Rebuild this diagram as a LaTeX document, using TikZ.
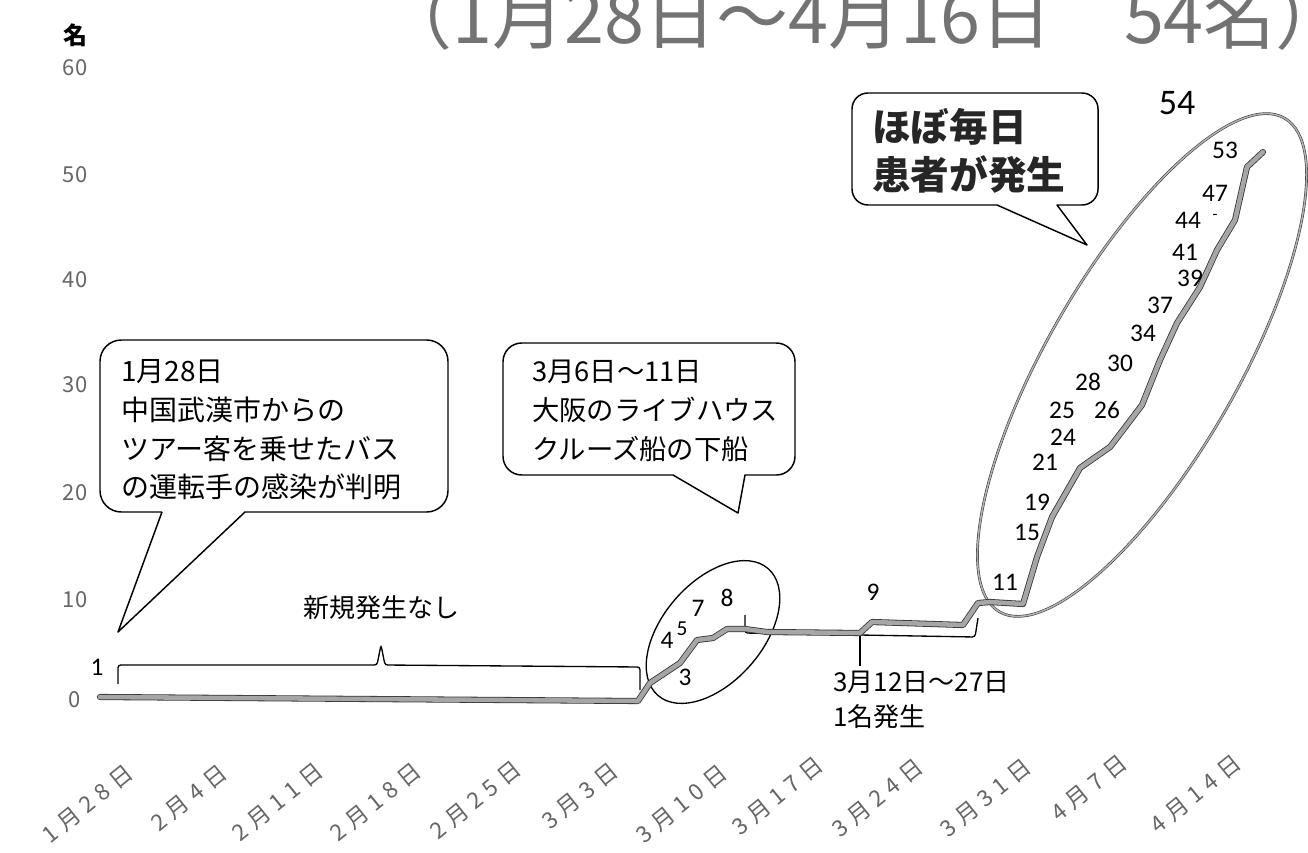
\documentclass[tikz,border=0pt]{standalone}
\usepackage{fontspec}
\newfontfamily\jp{Noto Sans CJK JP}
\newfontfamily\jpsp{Noto Sans CJK JP}[LetterSpace=28]
\newfontfamily\lab{Carlito}
\begin{document}
\begin{tikzpicture}[x=0.75pt,y=-0.75pt,
  dataline/.style={draw=black!80, line width=0.6pt, double=black!35, double distance=3.4pt, line join=round, line cap=round},
  bigring/.style={draw=black!75, line width=0.45pt, double=black!30, double distance=1.1pt},
  smallring/.style={draw=black, line width=1pt},
  balloon/.style={draw=black, line width=1.1pt, fill=white, line join=round},
  bracketline/.style={draw=black, line width=1pt, rounded corners=2pt},
  ytick/.style={font=\jp\fontsize{16.5}{16.5}\selectfont, text=black!60},
  xtick/.style={font=\jpsp\fontsize{17}{17}\selectfont, text=black!60, rotate=39, anchor=east, inner sep=0pt},
  datalab/.style={font=\lab\fontsize{19}{19}\selectfont, inner sep=0pt},
  callout/.style={font=\jp\fontsize{21}{29}\selectfont, align=left, anchor=west, inner sep=0pt},
  note/.style={font=\jp\fontsize{19.5}{26}\selectfont, align=left, inner sep=0pt}
]
\useasboundingbox (0,0) rectangle (1308,852);
\clip (0,0) rectangle (1308,852);
\fill[white] (0,0) rectangle (1308,852);

% title
\node[anchor=base west, inner sep=0pt, font=\jp\fontsize{54}{54}\selectfont, text=black!55] (title) at (380,44) {（1月28日～4月16日　54名）};

% y axis
\node[font=\jp\bfseries\fontsize{18}{18}\selectfont] (unit) at (75,35) {名};
\node[ytick] (y60) at (75,68) {60};
\node[ytick] (y50) at (75,175) {50};
\node[ytick] (y40) at (75,280) {40};
\node[ytick] (y30) at (75,385) {30};
\node[ytick] (y20) at (75,493) {20};
\node[ytick] (y10) at (75,600) {10};
\node[ytick] (y0) at (75,700) {0};

% x axis labels
\node[xtick] (x1) at (130,770) {1月28日};
\node[xtick] (x2) at (224,770) {2月4日};
\node[xtick] (x3) at (320,768) {2月11日};
\node[xtick] (x4) at (418,768) {2月18日};
\node[xtick] (x5) at (518,766) {2月25日};
\node[xtick] (x6) at (615,768) {3月3日};
\node[xtick] (x7) at (724,770) {3月10日};
\node[xtick] (x8) at (820,762) {3月17日};
\node[xtick] (x9) at (920,764) {3月24日};
\node[xtick] (x10) at (1028,764) {3月31日};
\node[xtick] (x11) at (1124,760) {4月7日};
\node[xtick] (x12) at (1238,760) {4月14日};

% rings
\draw[bigring, rotate around={60:(1142,365)}] (1142,365) ellipse [x radius=285, y radius=95];
\draw[smallring, rotate around={49:(713,632)}] (713,632) ellipse [x radius=84, y radius=50];

% brackets
\draw[bracketline] (118,684) -- (118,665) -- (377,665) -- (381,645) -- (385,665) -- (640,667) -- (640,690);
\draw[bracketline] (745,615) -- (745,633) -- (975,637) -- (978,618);
\draw[bracketline] (860,634) -- (860,666);

% data line
\draw[dataline] (100,697) -- (638,701) -- (650,683) -- (680,663) -- (697,640) -- (713,638) -- (727,629) -- (745,629) -- (767,632) -- (860,633) -- (872,622) -- (963,625) -- (978,603) -- (990,602) -- (1023,604) -- (1037,557) -- (1052,517) -- (1080,468) -- (1087,463) -- (1110,447) -- (1123,430) -- (1142,405) -- (1152,380) -- (1160,360) -- (1177,323) -- (1200,287) -- (1217,250) -- (1235,220) -- (1247,167) -- (1263,152);

% data labels
\node[datalab] (d1) at (97,667) {1};
\node[datalab] (d3) at (685,677) {3};
\node[datalab] (d4) at (667,640) {4};
\node[datalab, font=\lab\fontsize{16}{16}\selectfont] (d5) at (682,629) {5};
\node[datalab] (d7) at (698,608) {7};
\node[datalab] (d8) at (727,598) {8};
\node[datalab] (d9) at (873,592) {9};
\node[datalab] (d11) at (1005,582) {11};
\node[datalab] (d15) at (1027,532) {15};
\node[datalab] (d19) at (1037,502) {19};
\node[datalab] (d21) at (1045,462) {21};
\node[datalab] (d24) at (1063,437) {24};
\node[datalab] (d25) at (1062,410) {25};
\node[datalab] (d26) at (1107,410) {26};
\node[datalab] (d28) at (1088,382) {28};
\node[datalab] (d30) at (1120,363) {30};
\node[datalab] (d34) at (1143,333) {34};
\node[datalab] (d37) at (1160,305) {37};
\node[datalab] (d39) at (1190,278) {39};
\node[datalab] (d41) at (1185,252) {41};
\node[datalab] (d44) at (1188,220) {44};
\node[datalab, font=\lab\fontsize{12}{12}\selectfont] (d44b) at (1215,217) {-};
\node[datalab] (d47) at (1215,193) {47};
\node[datalab] (d53) at (1225,150) {53};
\node[datalab, font=\lab\fontsize{27}{27}\selectfont] (d54) at (1177,103) {54};

% notes
\node[note] (none) at (381,608) {新規発生なし};
\node[note, anchor=west] (one) at (833,700) {3月12日～27日\\1名発生};

% balloons
\draw[balloon] (162,512) -- (118,632) -- (245,512) [rounded corners=16pt] -- (448,512) -- (448,340) -- (100,340) -- (100,512) -- (162,512);
\node[callout] (c1) at (121,430) {1月28日\\中国武漢市からの\\ツアー客を乗せたバス\\の運転手の感染が判明};

\draw[balloon] (673,475) -- (738,513) -- (745,475) [rounded corners=14pt] -- (795,475) -- (795,343) -- (503,343) -- (503,475) -- (673,475);
\node[callout, font=\jp\fontsize{20.5}{29}\selectfont] (c2) at (532,411) {3月6日～11日\\大阪のライブハウス\\クルーズ船の下船};

\draw[balloon] (997,205) -- (1087,245) -- (1057,205) [rounded corners=12pt] -- (1098,205) -- (1098,93) -- (852,93) -- (852,205) -- (997,205);
\node[callout, font=\jp\bfseries\fontsize{29}{36}\selectfont, text=black!85] (c3) at (872,151) {ほぼ毎日\\患者が発生};
\end{tikzpicture}
\end{document}
